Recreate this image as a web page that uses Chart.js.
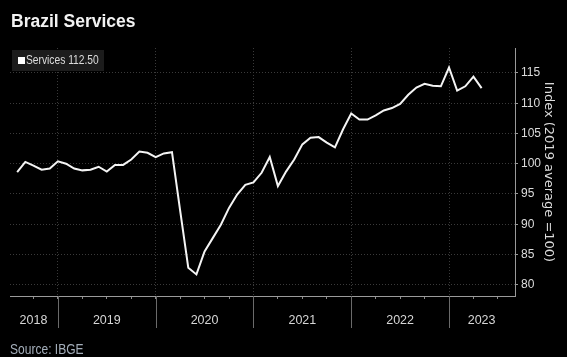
<!DOCTYPE html>
<html><head><meta charset="utf-8">
<script src="https://cdn.jsdelivr.net/npm/chart.js@4.4.1/dist/chart.umd.min.js"></script>
<style>
html,body{margin:0;padding:0;background:#000;}
#wrap{position:relative;width:567px;height:357px;overflow:hidden;background:#000;}
#c{position:absolute;left:0;top:0;}
.t{position:absolute;white-space:nowrap;margin:0;}
#title{left:11px;top:12.8px;font:bold 17.5px/17.5px 'Liberation Sans',Arial,sans-serif;color:#f2f2f2;}
#legend{position:absolute;left:12px;top:50px;width:92px;height:21px;background:#1c1c1c;}
#legsw{position:absolute;left:6px;top:7px;width:7px;height:7px;background:#fff;}
#legtx{position:absolute;left:13.5px;top:4.4px;font:12.5px/12.5px 'Liberation Sans',sans-serif;color:#dcdcdc;white-space:nowrap;transform:scaleX(0.82);transform-origin:0 0;}
#source{left:10px;top:341.7px;font:14.5px/14.5px 'Liberation Sans',sans-serif;color:#a3adb9;transform:scaleX(0.83);transform-origin:0 0;}
</style>
</head><body>
<div id="wrap">
<canvas id="c" width="567" height="357"></canvas>
<div class="t" id="title">Brazil Services</div>
<div id="legend"><div id="legsw"></div><div id="legtx"></div></div>
<div class="t" id="source">Source: IBGE</div>
</div>
<script>
// ---- data ----
const months = [
 '2018-07','2018-08','2018-09','2018-10','2018-11','2018-12',
 '2019-01','2019-02','2019-03','2019-04','2019-05','2019-06','2019-07','2019-08','2019-09','2019-10','2019-11','2019-12',
 '2020-01','2020-02','2020-03','2020-04','2020-05','2020-06','2020-07','2020-08','2020-09','2020-10','2020-11','2020-12',
 '2021-01','2021-02','2021-03','2021-04','2021-05','2021-06','2021-07','2021-08','2021-09','2021-10','2021-11','2021-12',
 '2022-01','2022-02','2022-03','2022-04','2022-05','2022-06','2022-07','2022-08','2022-09','2022-10','2022-11','2022-12',
 '2023-01','2023-02','2023-03','2023-04'
];
const services = [
 98.6,100.3,99.7,99.0,99.2,100.4,
 100.0,99.2,98.9,99.0,99.5,98.7,99.8,99.8,100.7,102.0,101.8,101.1,
 101.7,101.9,92.3,82.8,81.7,85.5,87.7,89.9,92.7,94.9,96.5,96.9,
 98.5,101.1,96.3,98.7,100.7,103.2,104.3,104.4,103.5,102.7,105.7,108.3,
 107.3,107.3,108.0,108.8,109.2,109.9,111.4,112.6,113.2,112.9,112.8,115.9,
 112.1,112.8,114.4,112.5
];
const seriesName = 'Services';
const yearLabels = ['2018','2019','2020','2021','2022','2023'];
const yTickValues = [80,85,90,95,100,105,110,115];
const yTitle = 'Index (2019 average =100)';

// month string -> months since start of 2018, placed at month end
function toT(s){ const [y,m] = s.split('-').map(Number); return (y-2018)*12 + m; }
const points = months.map((m,i)=>({x:toT(m), y:services[i]}));

document.getElementById('legtx').textContent = seriesName + ' ' + services[services.length-1].toFixed(2);

const X_MIN = 6.12, X_MAX = 68.1;
const yearBoundaries = [12,24,36,48,60];
// label position: middle of the visible part of each year
const labelPos = {};
yearLabels.forEach(l=>{
  const y = Number(l)-2018;
  const a = Math.max(y*12, X_MIN), b = Math.min((y+1)*12, X_MAX);
  labelPos[Math.round((a+b)/2)] = l;
});
const quarterTicks = [];
for(let t=9;t<=66;t+=3) quarterTicks.push(t);
const allXTicks = Array.from(new Set([...quarterTicks, ...Object.keys(labelPos).map(Number)])).sort((a,b)=>a-b);

const sepPlugin = {
  id:'sep',
  afterDraw(chart){
    const xs = chart.scales.x, ctx = chart.ctx, y0 = chart.chartArea.bottom;
    ctx.save();
    ctx.strokeStyle = '#6a6a6a'; ctx.lineWidth = 1;
    yearBoundaries.forEach(t=>{
      const x = Math.round(xs.getPixelForValue(t)) + 0.5;
      ctx.beginPath(); ctx.moveTo(x, y0); ctx.lineTo(x, y0+32); ctx.stroke();
    });
    ctx.restore();
  }
};

new Chart(document.getElementById('c'), {
  type:'line',
  data:{ datasets:[{ label:seriesName, data:points, borderColor:'#f4f4f4', borderWidth:2, pointRadius:0, tension:0, fill:false }]},
  options:{
    responsive:false, animation:false, devicePixelRatio:1,
    layout:{ padding:{ left:10, top:48, right:0, bottom:0 } },
    plugins:{ legend:{display:false}, tooltip:{enabled:false} },
    scales:{
      x:{
        type:'linear', position:'bottom', min:X_MIN, max:X_MAX,
        afterBuildTicks: s => { s.ticks = allXTicks.map(v=>({value:v})); },
        afterFit: s => { s.height = 61; },
        grid:{
          drawOnChartArea:true, drawTicks:true, tickLength:3, lineWidth:1,
          color: ctx => (ctx.tick && yearBoundaries.includes(ctx.tick.value)) ? '#3a3a3a' : 'rgba(0,0,0,0)',
          tickColor: ctx => (ctx.tick && quarterTicks.includes(ctx.tick.value)) ? '#8a8a8a' : 'rgba(0,0,0,0)',
          tickBorderDash:[]
        },
        border:{ display:true, color:'#9a9a9a', width:1, dash:[1,2] },
        ticks:{
          autoSkip:false, maxRotation:0, minRotation:0, padding:14, color:'#d6d6d6',
          font:{ family:"'Liberation Sans',Arial,sans-serif", size:12.5 },
          callback: v => labelPos[v] || ''
        }
      },
      y:{
        type:'linear', position:'right', min:78.13, max:119.13,
        afterBuildTicks: s => { s.ticks = yTickValues.map(v=>({value:v})); },
        afterFit: s => { s.width = 52; },
        grid:{ drawOnChartArea:true, drawTicks:true, tickLength:3, color:'#3a3a3a', tickColor:'#9a9a9a', tickBorderDash:[], lineWidth:1 },
        border:{ display:true, color:'#9a9a9a', width:1, dash:[1,2] },
        ticks:{ padding:3, color:'#dcdcdc', font:{ family:"'Liberation Sans',Arial,sans-serif", size:12 } },
        title:{ display:true, text:yTitle, color:'#dcdcdc', font:{ family:"'DejaVu Sans',sans-serif", size:13 }, padding:{top:11.2, bottom:0} }
      }
    }
  },
  plugins:[sepPlugin]
});
</script>
</body></html>
